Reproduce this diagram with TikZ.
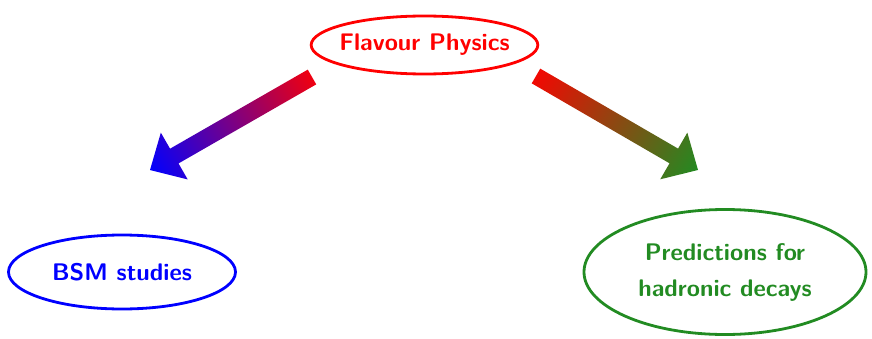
\documentclass[tikz,border=0pt]{standalone}
\usepackage{tikz}
\usetikzlibrary{positioning,calc,shapes.geometric}
\definecolor{fgreen}{RGB}{34,139,34}

% shadings along the arrows (tip colour on the left, red on the right)
\pgfdeclarehorizontalshading{toblue}{100bp}{color(0bp)=(blue); color(17bp)=(blue); color(86bp)=(red); color(100bp)=(red)}
\pgfdeclarehorizontalshading{togreen}{100bp}{color(0bp)=(fgreen); color(17bp)=(fgreen); color(86bp)=(red); color(100bp)=(red)}

% fat shaded arrow: tail, tip, shading, shading angle
\newcommand{\fatarrow}[4]{%
  \coordinate (#2-base) at ($(#2)!14pt!(#1)$);
  \shade[shading=#3, shading angle=#4]
    ($(#1)!4.25pt!90:(#2)$) -- ($(#2-base)!4.25pt!90:(#2)$)
    -- ($(#2-base)!13.5pt!90:(#2)$) -- (#2)
    -- ($(#2-base)!13.5pt!-90:(#2)$) -- ($(#2-base)!4.25pt!-90:(#2)$)
    -- ($(#1)!4.25pt!-90:(#2)$) -- cycle;
}

\begin{document}
\begin{tikzpicture}[
  font=\large\sffamily\bfseries,
  topic/.style={draw, ellipse, line width=1.4pt, inner sep=0pt, align=center},
]
  \useasboundingbox (0,0) rectangle (436pt,169pt);

  \node[topic, red, inner xsep=-2.5pt, minimum width=113pt, minimum height=29pt] (flav) at (212.25pt,146.5pt) {Flavour Physics};
  \node[topic, blue, minimum width=113.5pt, minimum height=37pt] (bsm) at (61pt,33pt) {BSM studies};
  \node[topic, fgreen, minimum width=141pt, minimum height=62.5pt] (had) at (362.5pt,33pt)
        {Predictions for\\[4pt]hadronic decays};

  % arrow ends
  \coordinate (l-tail) at (156pt,130.5pt);
  \coordinate (l-tip) at (75pt,84pt);
  \coordinate (r-tail) at (268pt,131pt);
  \coordinate (r-tip) at (349pt,84pt);

  \fatarrow{l-tail}{l-tip}{toblue}{30}
  \fatarrow{r-tail}{r-tip}{togreen}{150}
\end{tikzpicture}
\end{document}
